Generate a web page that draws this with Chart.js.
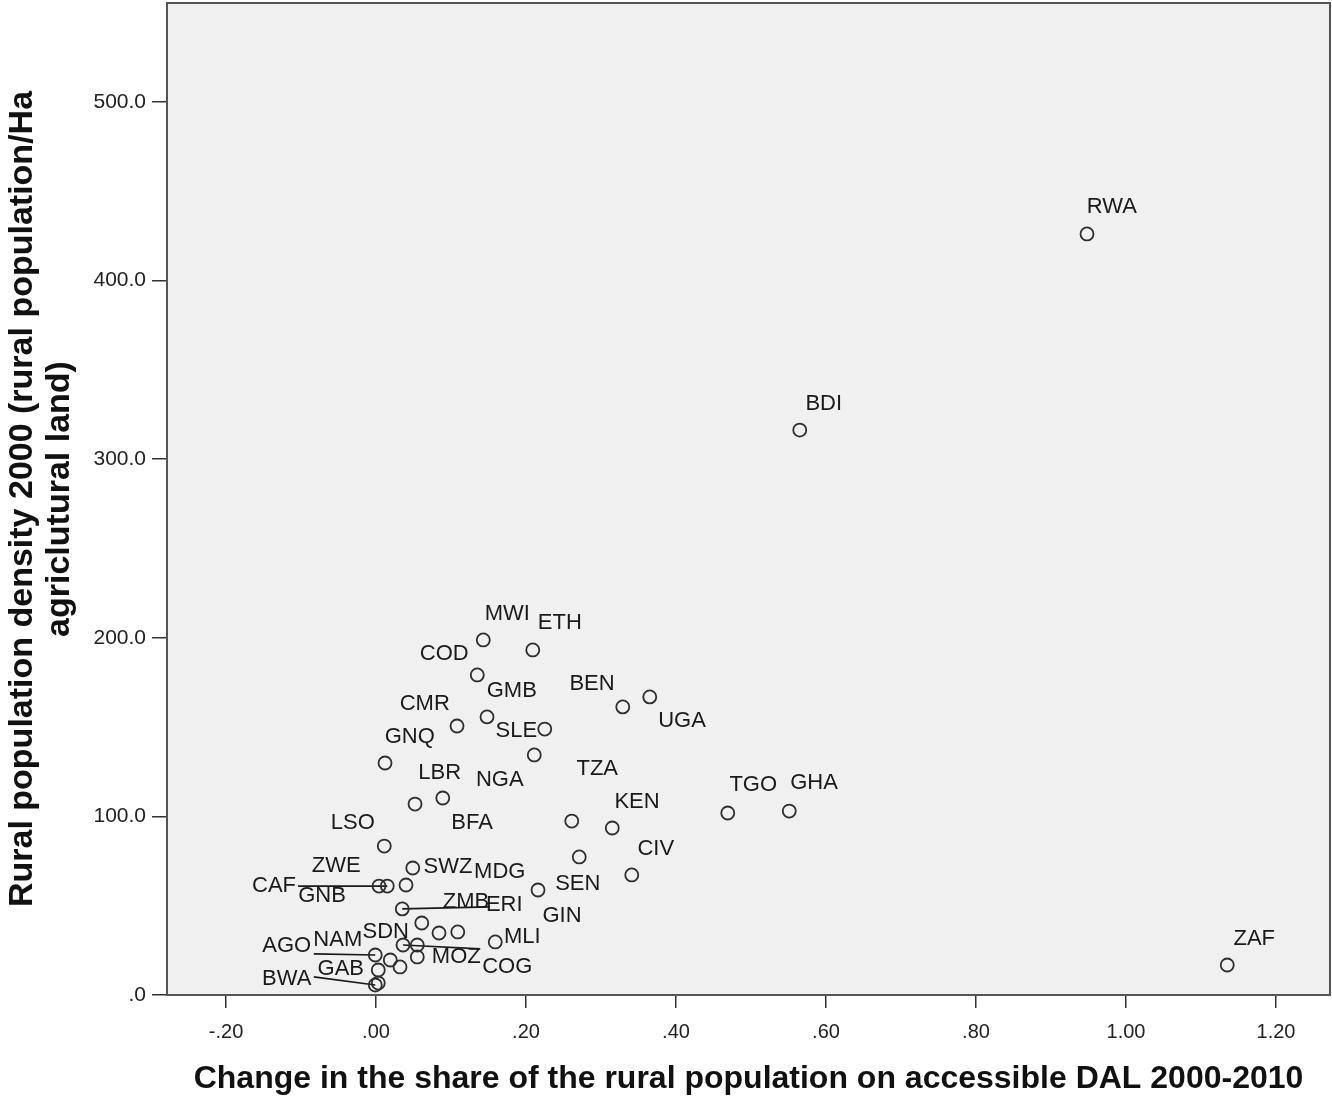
<!DOCTYPE html>
<html>
<head>
<meta charset="utf-8">
<script src="https://cdn.jsdelivr.net/npm/chart.js@4.4.1/dist/chart.umd.min.js"></script>
<style>
  html, body { margin: 0; padding: 0; background: #fff; }
  #wrap { width: 1332px; height: 1101px; }
</style>
</head>
<body>
<div id="wrap"><canvas id="scatter" width="1332" height="1101"></canvas></div>
<script>
// country codes, '' = point without a label
const countries = ['RWA','BDI','MWI','ETH','COD','GMB','CMR','SLE','NGA','GNQ',
  'LBR','BFA','TZA','KEN','BEN','UGA','LSO','TGO','GHA','CIV',
  'SEN','MDG','ZAF','CAF','GNB','ZWE','SWZ','ERI','ZMB','GIN',
  '','MLI','MOZ','SDN','COG','NAM','AGO','','GAB','BWA',''];

// change in share of rural population on accessible DAL 2000-2010
const changeShare = [0.948, 0.565, 0.143, 0.209, 0.135, 0.148, 0.108, 0.225, 0.211, 0.012,
  0.052, 0.089, 0.261, 0.315, 0.329, 0.365, 0.011, 0.469, 0.551, 0.341,
  0.271, 0.216, 1.135, 0.004, 0.015, 0.040, 0.049, 0.035, 0.061, 0.084,
  0.109, 0.159, 0.036, 0.055, 0.055, -0.001, 0.019, 0.032, 0.003, -0.001, 0.003];

// rural population density 2000
const density = [426.1, 316.3, 198.8, 193.2, 179.2, 155.7, 150.6, 148.9, 134.4, 129.9,
  106.9, 110.3, 97.4, 93.5, 161.3, 166.9, 83.4, 101.9, 103.0, 67.2,
  77.3, 58.8, 16.8, 61.0, 61.0, 61.6, 71.1, 48.2, 40.3, 34.7,
  35.3, 29.7, 28.0, 28.0, 21.3, 22.4, 19.6, 15.7, 14.0, 5.6, 6.7];

// where each label sits, in data units
const labelX = [0.981, 0.597, 0.175, 0.245, 0.091, 0.181, 0.065, 0.187, 0.165, 0.045,
  0.085, 0.128, 0.295, 0.348, 0.288, 0.408, -0.031, 0.503, 0.584, 0.373,
  0.269, 0.165, 1.171, -0.136, -0.072, -0.053, 0.096, 0.171, 0.120, 0.248,
  null, 0.195, 0.107, 0.013, 0.175, -0.051, -0.119, null, -0.047, -0.119, null];
const labelY = [441.2, 330.9, 213.3, 208.3, 190.9, 170.2, 162.9, 147.8, 120.4, 144.5,
  124.3, 96.3, 126.5, 108.1, 174.1, 153.4, 96.3, 117.6, 118.7, 81.7,
  62.2, 68.9, 31.4, 61.0, 55.4, 72.2, 71.7, 50.4, 52.1, 44.2,
  null, 32.5, 21.3, 35.3, 15.7, 30.8, 27.4, null, 14.6, 9.0, null];

// leader lines from a label to its point
const leaderNames = ['GNB', 'ERI', 'NAM', 'MOZ', 'BWA'];
const leaderFromX = [-0.104, 0.152, -0.083, 0.139, -0.083];
const leaderFromY = [61.0, 49.3, 23.0, 25.8, 10.1];

const xTickValues = [-0.2, 0, 0.2, 0.4, 0.6, 0.8, 1.0, 1.2];
const yTickValues = [0, 100, 200, 300, 400, 500];

const points = changeShare.map((x, i) => ({ x: x, y: density[i] }));

const fmtX = v => {
    const s = v.toFixed(2);
    return s.replace(/^(-?)0\./, '$1.');
};
const fmtY = v => v === 0 ? '.0' : v.toFixed(1);

const frameAndLabels = {
    id: 'frameAndLabels',
    beforeDatasetsDraw(chart) {
        const { ctx, chartArea: a, scales: { x, y } } = chart;
        ctx.save();
        ctx.fillStyle = '#f0f0f0';
        ctx.fillRect(a.left, a.top, a.right - a.left, a.bottom - a.top);
        // leader lines
        ctx.strokeStyle = '#1a1a1a';
        ctx.lineWidth = 1.7;
        leaderNames.forEach((name, k) => {
            const i = countries.indexOf(name);
            ctx.beginPath();
            ctx.moveTo(x.getPixelForValue(leaderFromX[k]), y.getPixelForValue(leaderFromY[k]));
            ctx.lineTo(x.getPixelForValue(changeShare[i]), y.getPixelForValue(density[i]));
            ctx.stroke();
        });
        ctx.restore();
    },
    afterDatasetsDraw(chart) {
        const { ctx, chartArea: a, scales: { x, y } } = chart;
        ctx.save();
        ctx.font = '22px "Liberation Sans", Arial, sans-serif';
        ctx.fillStyle = '#1a1a1a';
        ctx.textAlign = 'center';
        ctx.textBaseline = 'middle';
        countries.forEach((name, i) => {
            if (!name) return;
            ctx.fillText(name, x.getPixelForValue(labelX[i]), y.getPixelForValue(labelY[i]));
        });
        // top and right frame
        ctx.strokeStyle = '#555';
        ctx.lineWidth = 2;
        ctx.strokeRect(a.left, a.top, a.right - a.left, a.bottom - a.top);
        ctx.restore();
    }
};

const ctx = document.getElementById('scatter').getContext('2d');
new Chart(ctx, {
    type: 'scatter',
    data: {
        datasets: [{
            label: 'countries',
            data: points,
            pointStyle: 'circle',
            pointRadius: 6.5,
            pointHoverRadius: 6.5,
            borderColor: '#2e2e2e',
            borderWidth: 1.8,
            backgroundColor: 'rgba(0,0,0,0)'
        }]
    },
    options: {
        responsive: false,
        animation: false,
        layout: { autoPadding: false, padding: { top: 3, right: 2, left: 0, bottom: 0 } },
        plugins: {
            legend: { display: false },
            tooltip: { enabled: false }
        },
        scales: {
            x: {
                type: 'linear',
                min: -0.2787,
                max: 1.272,
                afterBuildTicks: s => { s.ticks = xTickValues.map(v => ({ value: v })); },
                afterFit: s => { s.height = 106; s.paddingLeft = 0; s.paddingRight = 0; },
                grid: { display: true, drawOnChartArea: false, drawTicks: true, tickLength: 13, color: '#333', lineWidth: 1.5 },
                border: { display: true, color: '#444', width: 2 },
                ticks: {
                    callback: v => fmtX(v),
                    color: '#222',
                    padding: 12,
                    maxRotation: 0,
                    autoSkip: false,
                    font: { family: '"Liberation Sans", Arial, sans-serif', size: 20 }
                },
                title: {
                    display: true,
                    text: 'Change in the share of the rural population on accessible DAL 2000-2010',
                    color: '#111',
                    padding: { top: 0, bottom: 3 },
                    font: { family: '"Liberation Sans", Arial, sans-serif', size: 32, weight: 'bold' }
                }
            },
            y: {
                type: 'linear',
                min: 0,
                max: 555.4,
                afterBuildTicks: s => { s.ticks = yTickValues.map(v => ({ value: v })); },
                afterFit: s => { s.width = 167; s.paddingTop = 0; s.paddingBottom = 0; },
                grid: { display: true, drawOnChartArea: false, drawTicks: true, tickLength: 15, color: '#333', lineWidth: 1.5 },
                border: { display: true, color: '#444', width: 2 },
                ticks: {
                    callback: v => fmtY(v),
                    color: '#222',
                    padding: 6,
                    autoSkip: false,
                    font: { family: '"Liberation Sans", Arial, sans-serif', size: 21 }
                },
                title: {
                    display: true,
                    text: ['Rural population density 2000 (rural population/Ha', 'agriclutural land)'],
                    color: '#111',
                    padding: { top: 4, bottom: 0 },
                    font: { family: '"Liberation Sans", Arial, sans-serif', size: 34, weight: 'bold', lineHeight: 1.1 }
                }
            }
        }
    },
    plugins: [frameAndLabels]
});
</script>
</body>
</html>
